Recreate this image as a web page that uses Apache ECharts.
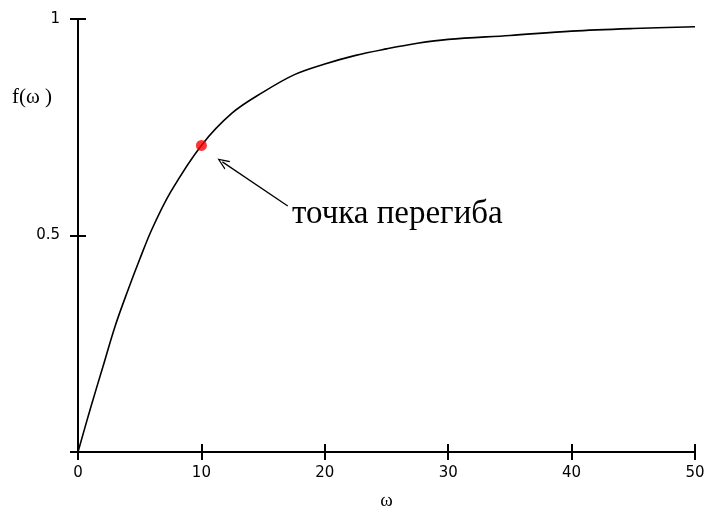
<!DOCTYPE html>
<html>
<head>
<meta charset="utf-8">
<script src="https://cdn.jsdelivr.net/npm/echarts@6/dist/echarts.min.js"></script>
<style>
html, body { margin: 0; padding: 0; background: #fff; }
#chart { width: 707px; height: 508px; }
</style>
</head>
<body>
<div id="chart"></div>
<script>
// curve: omega and f(omega)
var omega = [0, 1, 2, 3, 4, 5, 6, 7.5, 10, 12.5, 15, 17.5, 20, 22.5, 25, 27.5, 30, 35, 40, 45, 50];
var fval  = [0, 0.10, 0.195, 0.29, 0.37, 0.445, 0.515, 0.60, 0.708, 0.783, 0.831, 0.871, 0.896, 0.916, 0.931, 0.944, 0.953, 0.962, 0.972, 0.978, 0.982];

// inflection point
var inflection = [10, 0.708];

// annotation arrow (tail, tip) in data units
var arrowTail = [17.0, 0.568];
var arrowTip = [11.7, 0.670];
var noteText = 'точка перегиба';

var curve = [];
for (var i = 0; i < omega.length; i++) {
	curve.push([omega[i], fval[i]]);
}

var dom = document.getElementById('chart');
var myChart = echarts.init(dom);

var tickLabel = {
	color: '#000',
	fontFamily: 'DejaVu Sans',
	fontSize: 15
};

option = {
	backgroundColor: '#fff',
	animation: false,
	grid: { left: 78, right: 12, top: 19, bottom: 56, outerBoundsMode: 'none', containLabel: false },
	xAxis: [{
		type: 'value',
		min: 0, max: 50, interval: 10,
		name: 'ω',
		nameLocation: 'middle',
		nameGap: 40,
		nameTextStyle: { color: '#000', fontFamily: 'Liberation Serif', fontSize: 19 },
		axisLine: { lineStyle: { color: '#000', width: 2 } },
		axisTick: { length: 8, lineStyle: { color: '#000', width: 2 } },
		axisLabel: Object.assign({ margin: 14 }, tickLabel),
		splitLine: { show: false }
	}, {
		// inner half of the crossing ticks
		type: 'value',
		position: 'bottom',
		min: 0, max: 50, interval: 10,
		axisLine: { show: false },
		axisTick: { inside: true, length: 8, lineStyle: { color: '#000', width: 2 } },
		axisLabel: { show: false },
		splitLine: { show: false }
	}],
	yAxis: [{
		type: 'value',
		min: 0, max: 1, interval: 0.5,
		axisLine: { lineStyle: { color: '#000', width: 2 } },
		axisTick: { length: 8, lineStyle: { color: '#000', width: 2 } },
		axisLabel: Object.assign({
			margin: 18,
			formatter: function (v) { return v === 0 ? '' : String(v); }
		}, tickLabel),
		splitLine: { show: false }
	}, {
		type: 'value',
		position: 'left',
		min: 0, max: 1, interval: 0.5,
		axisLine: { show: false },
		axisTick: { inside: true, length: 8, lineStyle: { color: '#000', width: 2 } },
		axisLabel: { show: false },
		splitLine: { show: false }
	}],
	graphic: [{
		type: 'text',
		left: 12, top: 87,
		style: { text: 'f(ω )', fill: '#000', font: '21px "Liberation Serif"' }
	}, {
		type: 'text',
		left: 292, top: 198,
		style: { text: noteText, fill: '#000', font: '33px "Liberation Serif"' }
	}],
	series: [{
		type: 'line',
		data: curve,
		smooth: 0.35,
		showSymbol: false,
		lineStyle: { color: '#000', width: 1.6 },
		markLine: {
			silent: true,
			symbol: ['none', 'path://M0,0 L6,12 L4.5,12 L0,3 L-4.5,12 L-6,12 Z'],
			symbolSize: [10, 12],
			label: { show: false },
			lineStyle: { color: '#000', width: 1.3, type: 'solid' },
			data: [[{ coord: arrowTail }, { coord: arrowTip }]]
		}
	}, {
		type: 'scatter',
		data: [inflection],
		symbolSize: 11,
		itemStyle: { color: '#ff0000' },
		z: 5
	}, {
		// empty series so the tick-only axes get drawn
		type: 'line',
		xAxisIndex: 1,
		yAxisIndex: 1,
		data: []
	}]
};

if (option && typeof option === 'object') {
	myChart.setOption(option, true);
}
</script>
</body>
</html>
